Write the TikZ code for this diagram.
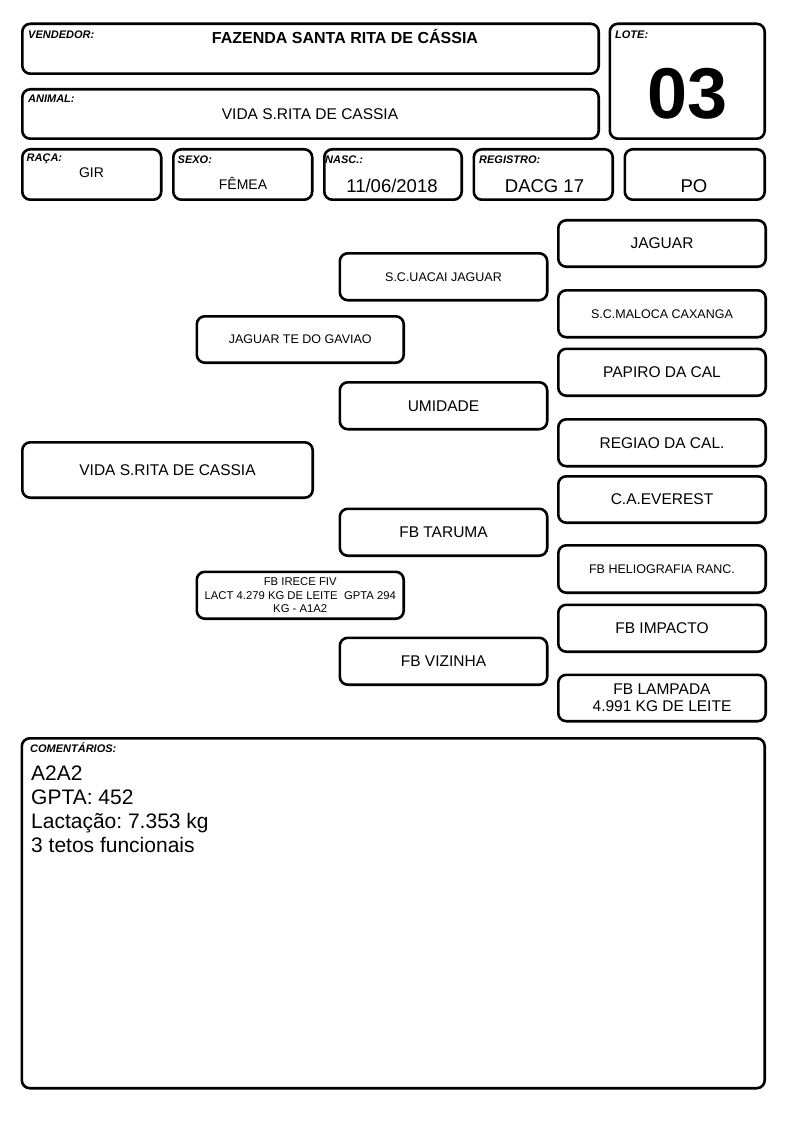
\documentclass[tikz,border=0pt]{standalone}
\usepackage{fontspec}
\setmainfont{Liberation Sans}
\frenchspacing
\newcommand\pbox[7]{%
  \pgfmathsetmacro\bw{#4-#2-2.6}%
  \pgfmathsetmacro\bh{#5-#3-2.6}%
  \node[box, minimum width=\bw pt, minimum height=\bh pt, #6] (#1) at ({(#2+#4)/2},{(#3+#5)/2}) {#7};}
\tikzset{
  box/.style={draw=black, line width=2.6pt, rounded corners=8pt, fill=white, align=center, inner sep=1pt},
  big/.style={font=\fontsize{15.5}{17}\selectfont},
  small/.style={font=\fontsize{12.5}{14}\selectfont},
  tiny/.style={font=\fontsize{11.3}{13.7}\selectfont},
  lbl/.style={font=\fontsize{11}{12}\selectfont\bfseries\itshape, anchor=base west, inner sep=0pt},
  val/.style={anchor=base, inner sep=0pt},
  com/.style={font=\fontsize{21}{24}\selectfont, anchor=base west, inner sep=0pt}
}
\begin{document}
\begin{tikzpicture}[x=1pt,y=-1pt]
\fill[white] (0,0) rectangle (794,1123);
\useasboundingbox (0,0) rectangle (794,1123);
% header boxes
\pbox{vend}{21}{22.5}{600}{75}{}{}
\pbox{anim}{21}{88}{600}{140}{}{}
\pbox{lote}{608.5}{22.5}{766}{140}{}{}
\pbox{raca}{21}{148}{162.5}{201}{}{}
\pbox{sexo}{172}{148}{313.5}{201}{}{}
\pbox{nasc}{323}{148}{463}{201}{}{}
\pbox{reg}{472.5}{148}{614}{201}{}{}
\pbox{po}{623.5}{148}{766}{201}{}{}
\pbox{coment}{20.5}{737}{766}{1089.5}{}{}
% labels
\node[lbl] (lvend) at (28,39) {VENDEDOR:};
\node[lbl] (lanim) at (28,103) {ANIMAL:};
\node[lbl] (llote) at (615,39) {LOTE:};
\node[lbl] (lraca) at (26.5,162) {RAÇA:};
\node[lbl] (lsexo) at (177.5,164) {SEXO:};
\node[lbl] (lnasc) at (325,164) {NASC.:};
\node[lbl] (lreg) at (479,164) {REGISTRO:};
\node[lbl] (lcom) at (30,752.5) {COMENTÁRIOS:};
% values
\node[val, font=\fontsize{16}{18}\selectfont\bfseries] (vvend) at (345,43.5) {FAZENDA SANTA RITA DE CÁSSIA};
\node[val, font=\fontsize{15.5}{18}\selectfont] (vanim) at (310,119.5) {VIDA S.RITA DE CASSIA};
\node[val, font=\fontsize{72}{80}\selectfont\bfseries] (vlote) at (687.5,118.5) {03};
\node[val, font=\fontsize{14}{16}\selectfont] (vraca) at (91.5,178) {GIR};
\node[val, font=\fontsize{14}{16}\selectfont] (vsexo) at (243,189.5) {FÊMEA};
\node[val, font=\fontsize{18.5}{20}\selectfont] (vnasc) at (392,193) {11/06/2018};
\node[val, font=\fontsize{18.5}{20}\selectfont] (vreg) at (544.5,193) {DACG 17};
\node[val, font=\fontsize{18.5}{20}\selectfont] (vpo) at (694,193) {PO};
% comments
\node[com] (c1) at (31,780) {A2A2};
\node[com] (c2) at (31,804) {GPTA: 452};
\node[com] (c3) at (31,828.5) {Lactação: 7.353 kg};
\node[com] (c4) at (31,852.5) {3 tetos funcionais};
% pedigree
\pbox{main}{21}{441}{314}{499}{big}{VIDA S.RITA DE CASSIA}
\pbox{jtg}{195.5}{315}{405}{364}{small}{JAGUAR TE DO GAVIAO}
\pbox{irece}{195.5}{570.5}{405}{620}{tiny}{FB IRECE FIV\\LACT 4.279 KG DE LEITE\ \ GPTA 294\\KG - A1A2}
\pbox{uacai}{338.5}{252}{548.5}{301.5}{small}{S.C.UACAI JAGUAR}
\pbox{umid}{338.5}{381}{548.5}{430.5}{big}{UMIDADE}
\pbox{taruma}{338.5}{507.5}{548.5}{557}{big}{FB TARUMA}
\pbox{vizinha}{338.5}{636.5}{548.5}{686}{big}{FB VIZINHA}
\pbox{jaguar}{557}{219}{767}{268}{big}{JAGUAR}
\pbox{maloca}{557}{289}{767}{338.5}{small}{S.C.MALOCA CAXANGA}
\pbox{papiro}{557}{347.5}{767}{397}{big}{PAPIRO DA CAL}
\pbox{regiao}{557}{418}{767}{467.5}{big}{REGIAO DA CAL.}
\pbox{everest}{557}{475}{767}{524}{big}{C.A.EVEREST}
\pbox{helio}{557}{544}{767}{594}{small}{FB HELIOGRAFIA RANC.}
\pbox{impacto}{557}{603.5}{767}{653}{big}{FB IMPACTO}
\pbox{lampada}{557}{673.5}{767}{722.5}{big}{FB LAMPADA\\4.991 KG DE LEITE}
\end{tikzpicture}
\end{document}
